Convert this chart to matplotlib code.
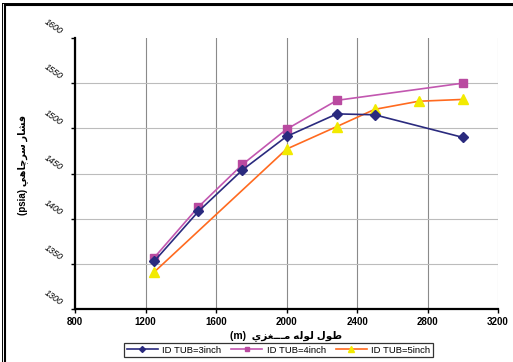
import matplotlib
matplotlib.use("Agg")
import matplotlib.pyplot as plt
from matplotlib.lines import Line2D
from matplotlib.transforms import ScaledTranslation

# Data
x_3in = [1250, 1500, 1750, 2000, 2286, 2500, 3000]
p_3in = [1353, 1408, 1454, 1491, 1516, 1515, 1490]
x_4in = [1250, 1500, 1750, 2000, 2286, 3000]
p_4in = [1357, 1413, 1460, 1499, 1531, 1550]
x_5in = [1250, 2000, 2286, 2500, 2750, 3000]
p_5in = [1341, 1477, 1502, 1521, 1530, 1532]

labels = ["ID TUB=3inch", "ID TUB=4inch", "ID TUB=5inch"]
x_ticks = [800, 1200, 1600, 2000, 2400, 2800, 3200]
y_ticks = [1300, 1350, 1400, 1450, 1500, 1550, 1600]

# Persian text written in presentation forms, visual order
xlabel = "(m)  \uFEF1\uFEB0\uFED0\u0640\u0640\u0640\uFEE3 \uFEEA\uFEDF\uFEEE\uFEDF \uFEDD\uFEEE\uFEC3"
ylabel = "(psia) \uFEF2\uFEEB\uFE8E\uFB7C\uFEAE\uFEB3 \uFEAD\uFE8E\uFEB8\uFED3"

plt.rcParams['font.family'] = ['Liberation Sans', 'DejaVu Sans']

fig = plt.figure(figsize=(5.13, 3.62), dpi=100)
ax = fig.add_axes([0.1462, 0.1464, 0.8246, 0.7486])

ax.plot(x_3in, p_3in, color="#2a2a7e", lw=1.2, marker="D", ms=5,
        mfc="#2a2a7e", mec="#2a2a7e", label=labels[0], zorder=4)
ax.plot(x_4in, p_4in, color="#c257b0", lw=1.2, marker="s", ms=6,
        mfc="#b94aa0", mec="#b94aa0", label=labels[1], zorder=3)
ax.plot(x_5in, p_5in, color="#ff6a1f", lw=1.2, marker="^", ms=7,
        mfc="#f2ea00", mec="#f2ea00", label=labels[2], zorder=3)

ax.set_xlim(800, 3200)
ax.set_ylim(1300, 1600)
ax.tick_params(axis="both", direction="out", length=3, width=1, pad=3)
ax.set_xticks(x_ticks)
ax.set_yticks(y_ticks)
ax.set_xticklabels([str(v) for v in x_ticks], fontsize=7, fontweight="bold")
ax.set_yticklabels([str(v) for v in y_ticks], fontsize=6.5, style="italic",
                   rotation=-35, ha="center", va="center")
for lab in ax.get_yticklabels():
    lab.set_transform(lab.get_transform() +
                      ScaledTranslation(-0.13, 0.11, fig.dpi_scale_trans))

ax.xaxis.grid(True, color="#8a8a8a", lw=0.8)
ax.yaxis.grid(True, color="#bcbcbc", lw=0.8)
ax.set_axisbelow(True)
ygl = ax.get_ygridlines()
ygl[-1].set_visible(False)
ygl[0].set_visible(False)
ax.get_xgridlines()[-1].set_color("#c8c8c8")

for s in ["top", "right"]:
    ax.spines[s].set_visible(False)
for s in ["left", "bottom"]:
    ax.spines[s].set_linewidth(1.6)
    ax.spines[s].set_color("black")

ax.set_xlabel(xlabel, fontsize=7.5, fontweight="bold", labelpad=2)
ax.set_ylabel(ylabel, fontsize=7, fontweight="bold")
ax.yaxis.set_label_coords(-0.11, 0.53)

leg = fig.legend(loc="center", bbox_to_anchor=(0.543, 0.033), ncol=3,
                 fontsize=6.8, frameon=True, fancybox=False, edgecolor="black",
                 borderpad=0.25, handlelength=3.3, columnspacing=1.0,
                 handletextpad=0.5, markerscale=0.6)
leg.get_frame().set_linewidth(0.9)

# double frame lines (top and left) around the chart
W, H = 513.0, 362.0
fig.add_artist(Line2D([2 / W, 2 / W], [0, 1 - 3 / H], transform=fig.transFigure,
                      color="black", lw=0.7))
fig.add_artist(Line2D([2 / W, 1], [1 - 3 / H, 1 - 3 / H], transform=fig.transFigure,
                      color="black", lw=0.7))
fig.add_artist(Line2D([5 / W, 5 / W], [0, 1 - 5 / H], transform=fig.transFigure,
                      color="black", lw=1.5))
fig.add_artist(Line2D([5 / W, 1], [1 - 5 / H, 1 - 5 / H], transform=fig.transFigure,
                      color="black", lw=1.5))

fig.savefig("out.png", dpi=100)
